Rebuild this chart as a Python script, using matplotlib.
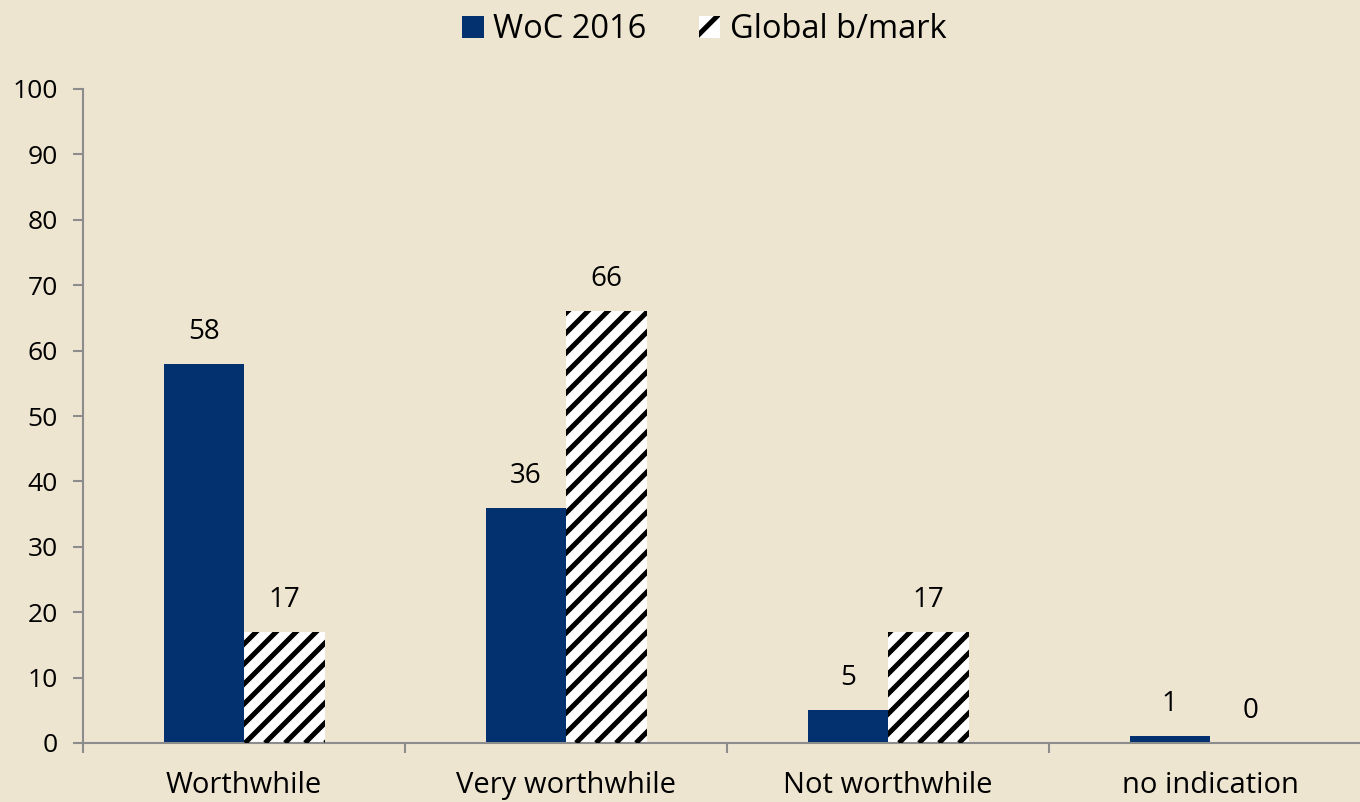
import matplotlib.pyplot as plt
import numpy as np
from matplotlib.lines import Line2D
from matplotlib.patches import Patch
from matplotlib.transforms import IdentityTransform

# dados do gráfico
categorias = ['Worthwhile', 'Very worthwhile', 'Not worthwhile', 'no indication']
woc_2016 = [58, 36, 5, 1]
global_bmark = [17, 66, 17, 0]
serie_nomes = ['WoC 2016', 'Global b/mark']
y_ticks = list(range(0, 101, 10))

fundo = '#EEE5D1'
azul = '#03306E'
cinza = '#8C8C8C'

plt.rcParams['font.family'] = ['Open Sans', 'DejaVu Sans']
plt.rcParams['hatch.linewidth'] = 3.6

fig = plt.figure(figsize=(13.6, 8.02), dpi=100, facecolor=fundo)
ax = fig.add_axes([83 / 1360, 59 / 802, 1277 / 1360, 654 / 802])
ax.set_facecolor(fundo)

x = np.arange(len(categorias))
largura = 0.25

b1 = ax.bar(x - largura / 2, woc_2016, largura, color=azul, linewidth=0)
b2 = ax.bar(x + largura / 2, global_bmark, largura, color='white', linewidth=0)

# listras diagonais nas barras brancas (mais densas que o hatch padrão)
passo = 20
for barra in b2:
    if barra.get_height() <= 0:
        continue
    x0, y0 = ax.transData.transform((barra.get_x(), 0))
    x1, y1 = ax.transData.transform((barra.get_x() + barra.get_width(), barra.get_height()))
    alt = y1 - y0
    for o in np.arange(x0 - alt, x1 + passo, passo):
        linha = Line2D([o, o + alt], [y0, y1], color='black', linewidth=3.6,
                       transform=IdentityTransform(), solid_capstyle='butt')
        linha.set_clip_path(barra)
        fig.add_artist(linha)

# valores em cima das barras
for barras, valores in [(b1, woc_2016), (b2, global_bmark)]:
    for barra, v in zip(barras, valores):
        ax.annotate(str(v), (barra.get_x() + barra.get_width() / 2, v),
                    xytext=(0, 13), textcoords='offset points',
                    ha='center', va='bottom', fontsize=20)

ax.set_ylim(0, 100)
ax.set_yticks(y_ticks)
ax.set_xlim(-0.5, 3.5 - 11 / 322)

# categorias no meio, ticks nas divisões
ax.set_xticks(x)
ax.set_xticklabels(categorias, fontsize=21)
ax.set_xticks(np.arange(len(categorias)) - 0.5, minor=True)
ax.tick_params(axis='x', which='major', length=0, pad=20)
ax.tick_params(axis='x', which='minor', length=7, width=1.5, color=cinza)
ax.tick_params(axis='y', length=7, width=1.5, color=cinza, labelsize=19, pad=11)

for lado in ['top', 'right']:
    ax.spines[lado].set_visible(False)
for lado in ['left', 'bottom']:
    ax.spines[lado].set_color(cinza)
    ax.spines[lado].set_linewidth(1.5)

handles = [Patch(facecolor=azul, linewidth=0),
           Patch(facecolor='white', edgecolor='black', hatch='/', linewidth=0)]
fig.legend(handles, serie_nomes, loc='upper center', bbox_to_anchor=(0.518, 1.02), ncol=2,
           frameon=False, fontsize=23.5, handlelength=0.65, handleheight=0.65,
           handletextpad=0.3, columnspacing=1.6)

plt.savefig('out.png', dpi=100, facecolor=fundo)
